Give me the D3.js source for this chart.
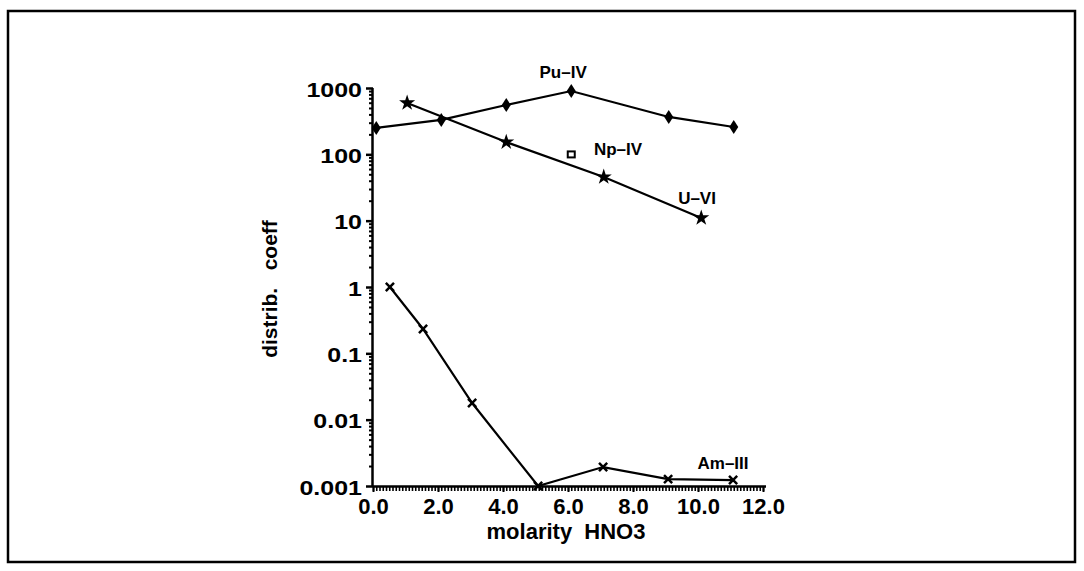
<!DOCTYPE html>
<html>
<head>
<meta charset="utf-8">
<script src="https://cdn.jsdelivr.net/npm/d3@7"></script>
<style>
  html, body { margin: 0; padding: 0; background: #fff; }
  text { font-family: "Liberation Sans", Arial, sans-serif; font-weight: bold; fill: #000; white-space: pre; }
</style>
</head>
<body>
<svg id="chart" width="1084" height="571"></svg>
<script>
// ---- data ----
const puX = [0.1, 2.1, 4.1, 6.1, 9.1, 11.1];
const puY = [250, 330, 555, 900, 366, 258];
const uX = [1.05, 4.1, 7.1, 10.1];
const uY = [595, 153, 45.5, 11];
const npX = [6.1];
const npY = [98];
const amX = [0.52, 1.54, 3.05, 5.08, 7.08, 9.08, 11.08];
const amY = [1.0, 0.233, 0.0178, 0.001, 0.00193, 0.00127, 0.00123];
const yTicks = [0.001, 0.01, 0.1, 1, 10, 100, 1000];
const yTickLabels = ["0.001", "0.01", "0.1", "1", "10", "100", "1000"];
const xTicks = [0, 2, 4, 6, 8, 10, 12];
const xTickLabels = ["0.0", "2.0", "4.0", "6.0", "8.0", "10.0", "12.0"];
const seriesLabels = [
  {name: "Pu–IV", x: 5.85, y: 1742},
  {name: "Np–IV", x: 7.54, y: 120},
  {name: "U–VI", x: 9.97, y: 22},
  {name: "Am–III", x: 10.77, y: 0.00222}
];
const xTitle = "molarity  HNO3";
const yTitle = "distrib.   coeff";

// ---- layout ----
const svg = d3.select("#chart");
const L = 373, R = 763, T = 88, B = 486;
const x = d3.scaleLinear().domain([0, 12]).range([L, R]);
const y = d3.scaleLog().domain([0.001, 1000]).range([B, T]);

// frame
svg.append("rect").attr("x", 8).attr("y", 11).attr("width", 1067).attr("height", 551)
  .attr("fill", "none").attr("stroke", "#000").attr("stroke-width", 2.5);

// minor y ticks
const yMinor = [];
for (let e = -3; e < 3; e++) for (let k = 2; k <= 9; k++) yMinor.push(k * Math.pow(10, e));
svg.append("g").attr("transform", `translate(${L},0)`)
  .call(d3.axisLeft(y).tickValues(yMinor).tickSize(4).tickFormat(""))
  .call(g => g.select(".domain").remove())
  .call(g => g.selectAll("line").attr("stroke-width", 2));

// major y axis
const yAxis = svg.append("g").attr("transform", `translate(${L},0)`)
  .call(d3.axisLeft(y).tickValues(yTicks).tickSize(7).tickPadding(4)
    .tickFormat((d, i) => yTickLabels[i]));
yAxis.select(".domain").attr("stroke-width", 2.5).attr("d", `M-0.5,${B}V${T}`);
yAxis.selectAll("line").attr("stroke-width", 2.5);
yAxis.selectAll("text").style("font-size", "20px").attr("dy", "0.4em")
  .attr("x", -11 / 1.25).attr("transform", "scale(1.25,1)");

// minor x ticks
const xMinor = d3.range(0, 121).map(i => i / 10);
svg.append("g").attr("transform", `translate(0,${B})`)
  .call(d3.axisBottom(x).tickValues(xMinor).tickSize(5).tickFormat(""))
  .call(g => g.select(".domain").remove())
  .call(g => g.selectAll("line").attr("stroke-width", 1.6));

// major x axis
const xAxis = svg.append("g").attr("transform", `translate(0,${B})`)
  .call(d3.axisBottom(x).tickValues(xTicks).tickSize(6).tickPadding(6)
    .tickFormat((d, i) => xTickLabels[i]));
xAxis.select(".domain").attr("stroke-width", 2.5).attr("d", `M${L},0.5H${R + 3}`);
xAxis.selectAll("line").attr("stroke-width", 2);
xAxis.selectAll("text").style("font-size", "22px").attr("y", 12).attr("dy", "0.72em");

// titles
svg.append("text").attr("x", 566).attr("y", 539)
  .attr("text-anchor", "middle").style("font-size", "22px").text(xTitle);
svg.append("text").attr("transform", `translate(277,289) rotate(-90)`)
  .attr("text-anchor", "middle").style("font-size", "21px").text(yTitle);

// lines
const line = d3.line().x(d => x(d[0])).y(d => y(d[1]));
function series(xs, ys) { return xs.map((v, i) => [v, ys[i]]); }
const pu = series(puX, puY), u = series(uX, uY), np = series(npX, npY), am = series(amX, amY);
[pu, u, am].forEach(s => svg.append("path").datum(s).attr("d", line)
  .attr("fill", "none").attr("stroke", "#000").attr("stroke-width", 2.2));

// markers
const diamond = "M0,-7L4.5,0L0,7L-4.5,0Z";
svg.selectAll(".pu").data(pu).enter().append("path")
  .attr("transform", d => `translate(${x(d[0])},${y(d[1])})`)
  .attr("d", diamond).attr("fill", "#000");
svg.selectAll(".u").data(u).enter().append("path")
  .attr("transform", d => `translate(${x(d[0])},${y(d[1])})`)
  .attr("d", d3.symbol(d3.symbolStar, 80)).attr("fill", "#000");
svg.selectAll(".np").data(np).enter().append("rect")
  .attr("x", d => x(d[0]) - 3.5).attr("y", d => y(d[1]) - 3.5)
  .attr("width", 7).attr("height", 6)
  .attr("fill", "none").attr("stroke", "#000").attr("stroke-width", 2);
svg.selectAll(".am").data(am).enter().append("path")
  .attr("transform", d => `translate(${x(d[0])},${y(d[1])})`)
  .attr("d", d3.symbol(d3.symbolX, 45)).attr("fill", "none")
  .attr("stroke", "#000").attr("stroke-width", 2.5);

// series labels
svg.selectAll(".lbl").data(seriesLabels).enter().append("text")
  .attr("x", d => x(d.x)).attr("y", d => y(d.y))
  .attr("text-anchor", "middle").attr("dy", "0.36em")
  .style("font-size", "17px").text(d => d.name);
</script>
</body>
</html>
